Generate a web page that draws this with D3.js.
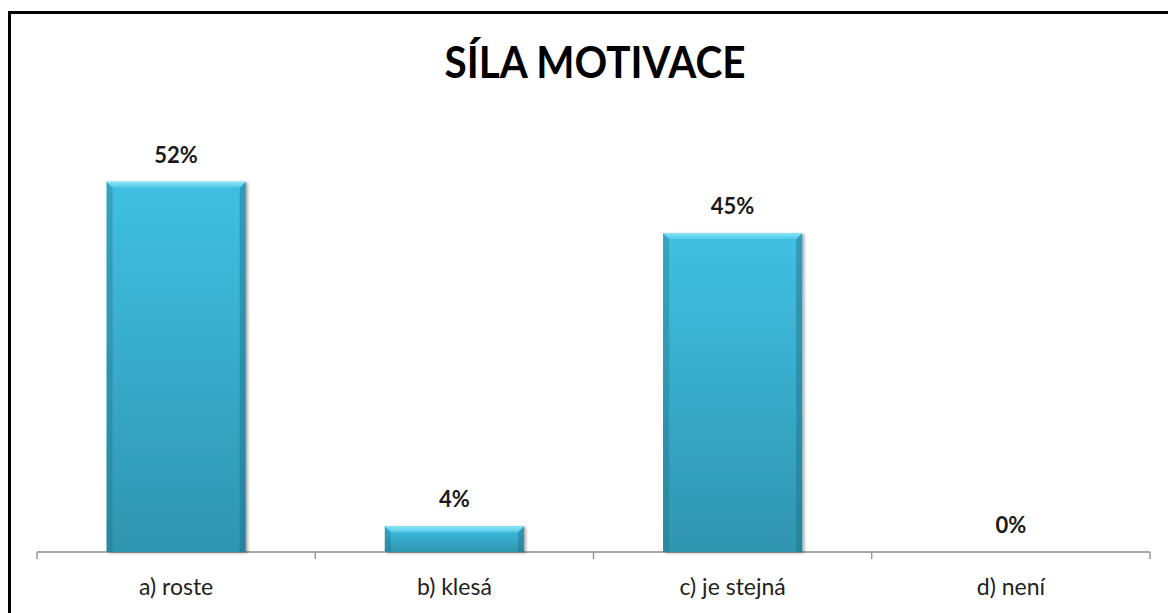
<!DOCTYPE html>
<html lang="cs">
<head>
<meta charset="UTF-8">
<title>Síla motivace</title>
<style>
  body { margin: 0; background: #fff; }
  svg { display: block; font-family: "Lato", "Open Sans", sans-serif; }
  .frame { fill: none; stroke: #000; stroke-width: 3; }
  .title { font-weight: bold; font-size: 44px; fill: #000; }
  .value { font-weight: bold; font-size: 22px; fill: #1a1a1a; }
  .cat { font-size: 23px; fill: #222; }
  .axis line, .axis path { stroke: #8c8c8c; stroke-width: 1.3; }
</style>
</head>
<body>
<script src="https://d3js.org/d3.v7.min.js"></script>
<script>
  // data
  var categories = ["a) roste", "b) klesá", "c) je stejná", "d) není"];
  var values = [0.52, 0.036, 0.448, 0];
  var title = "SÍLA MOTIVACE";

  var W = 1168, H = 613;
  var axisY = 552;

  var svg = d3.select("body").append("svg")
      .attr("width", W)
      .attr("height", H);

  // chart border (runs off the right and bottom edges)
  svg.append("rect")
      .attr("class", "frame")
      .attr("x", 9.5).attr("y", 12.5)
      .attr("width", W + 20).attr("height", H + 20);

  svg.append("text")
      .attr("class", "title")
      .attr("x", 595).attr("y", 78)
      .attr("text-anchor", "middle")
      .attr("textLength", 301)
      .attr("lengthAdjust", "spacingAndGlyphs")
      .text(title);

  var x = d3.scaleBand()
      .domain(categories)
      .range([37, 1150])
      .paddingInner(0.5)
      .paddingOuter(0.25);

  var y = d3.scaleLinear()
      .domain([0, 0.6])
      .range([axisY, axisY - 0.6 * 712]);

  var defs = svg.append("defs");

  var g1 = defs.append("linearGradient").attr("id", "barFill")
      .attr("x1", 0).attr("y1", 0).attr("x2", 0).attr("y2", 1);
  g1.append("stop").attr("offset", "0%").attr("stop-color", "#40c0e3");
  g1.append("stop").attr("offset", "100%").attr("stop-color", "#2f95b0");

  var g2 = defs.append("linearGradient").attr("id", "topBevel")
      .attr("x1", 0).attr("y1", 0).attr("x2", 0).attr("y2", 1);
  g2.append("stop").attr("offset", "0%").attr("stop-color", "#8ae6f8");
  g2.append("stop").attr("offset", "100%").attr("stop-color", "#4cc8e8");

  var sh = defs.append("filter").attr("id", "shadow")
      .attr("x", "-10%").attr("y", "-10%").attr("width", "125%").attr("height", "125%");
  sh.append("feDropShadow")
      .attr("dx", 2).attr("dy", 1).attr("stdDeviation", 1.6)
      .attr("flood-color", "#000").attr("flood-opacity", 0.35);

  // axis line + ticks at category boundaries
  var step = x.step();
  var bounds = d3.range(categories.length + 1).map(function(i) { return x.range()[0] + i * step; });
  var axis = svg.append("g").attr("class", "axis");
  axis.append("line")
      .attr("x1", bounds[0]).attr("x2", bounds[bounds.length - 1])
      .attr("y1", axisY).attr("y2", axisY);
  axis.selectAll(".tick").data(bounds).enter().append("line")
      .attr("class", "tick")
      .attr("x1", function(d) { return d; }).attr("x2", function(d) { return d; })
      .attr("y1", axisY).attr("y2", axisY + 7);

  var bev = 6;
  var bars = svg.selectAll(".bar")
      .data(values)
      .enter().append("g")
      .attr("class", "bar")
      .filter(function(d) { return d > 0; })
      .attr("filter", "url(#shadow)");

  bars.each(function(d) {
    var g = d3.select(this);
    var c = categories[values.indexOf(d)];
    var x0 = x(c), w = x.bandwidth(), y0 = y(d), h = axisY - y0;
    var b = Math.min(bev, h / 2);
    g.append("rect")
        .attr("x", x0).attr("y", y0).attr("width", w).attr("height", h)
        .attr("fill", "url(#barFill)");
    // side bevels
    g.append("polygon")
        .attr("points", [[x0, y0], [x0 + b, y0 + b], [x0 + b, axisY], [x0, axisY]].join(" "))
        .attr("fill", "#1f6f85").attr("opacity", 0.35);
    g.append("polygon")
        .attr("points", [[x0 + w, y0], [x0 + w - b, y0 + b], [x0 + w - b, axisY], [x0 + w, axisY]].join(" "))
        .attr("fill", "#1f6f85").attr("opacity", 0.45);
    // top bevel
    g.append("polygon")
        .attr("points", [[x0, y0], [x0 + w, y0], [x0 + w - b, y0 + b], [x0 + b, y0 + b]].join(" "))
        .attr("fill", "url(#topBevel)");
  });

  var fmt = d3.format(".0%");
  svg.selectAll(".value")
      .data(values)
      .enter().append("text")
      .attr("class", "value")
      .attr("x", function(d, i) { return x(categories[i]) + x.bandwidth() / 2; })
      .attr("y", function(d) { return y(d) - 19; })
      .attr("text-anchor", "middle")
      .text(function(d) { return fmt(d); });

  svg.selectAll(".cat")
      .data(categories)
      .enter().append("text")
      .attr("class", "cat")
      .attr("x", function(d) { return x(d) + x.bandwidth() / 2; })
      .attr("y", 595)
      .attr("text-anchor", "middle")
      .text(function(d) { return d; });
</script>
</body>
</html>
